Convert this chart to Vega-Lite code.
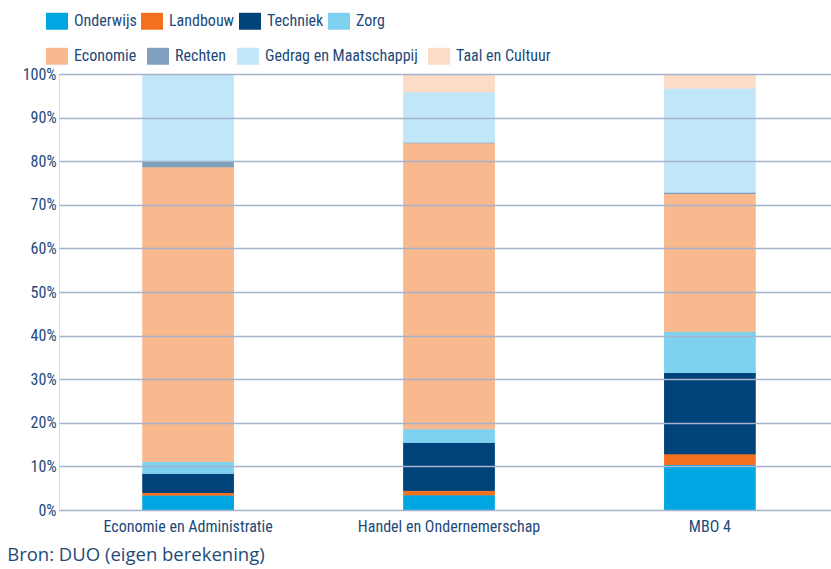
{
  "$schema": "https://vega.github.io/schema/vega-lite/v6.json",
  "width": 780,
  "height": 436,
  "padding": {"left": 7, "top": 10, "right": 0, "bottom": 5},
  "background": "white",
  "title": {
    "text": "Bron: DUO (eigen berekening)",
    "orient": "bottom",
    "anchor": "start",
    "frame": "bounds",
    "font": "Open Sans",
    "fontSize": 18.5,
    "fontWeight": "normal",
    "color": "#1f4a78",
    "offset": 12,
    "dx": -15
  },
  "data": {
    "values": [
      {"opleiding": "Economie en Administratie", "sector": "Onderwijs", "k": 1, "pct": 3.3},
      {"opleiding": "Economie en Administratie", "sector": "Landbouw", "k": 2, "pct": 0.6},
      {"opleiding": "Economie en Administratie", "sector": "Techniek", "k": 3, "pct": 4.4},
      {"opleiding": "Economie en Administratie", "sector": "Zorg", "k": 4, "pct": 2.7},
      {"opleiding": "Economie en Administratie", "sector": "Economie", "k": 5, "pct": 67.6},
      {"opleiding": "Economie en Administratie", "sector": "Rechten", "k": 6, "pct": 1.3},
      {"opleiding": "Economie en Administratie", "sector": "Gedrag en Maatschappij", "k": 7, "pct": 20.1},
      {"opleiding": "Economie en Administratie", "sector": "Taal en Cultuur", "k": 8, "pct": 0.0},
      {"opleiding": "Handel en Ondernemerschap", "sector": "Onderwijs", "k": 1, "pct": 3.4},
      {"opleiding": "Handel en Ondernemerschap", "sector": "Landbouw", "k": 2, "pct": 1.0},
      {"opleiding": "Handel en Ondernemerschap", "sector": "Techniek", "k": 3, "pct": 11.0},
      {"opleiding": "Handel en Ondernemerschap", "sector": "Zorg", "k": 4, "pct": 3.1},
      {"opleiding": "Handel en Ondernemerschap", "sector": "Economie", "k": 5, "pct": 65.6},
      {"opleiding": "Handel en Ondernemerschap", "sector": "Rechten", "k": 6, "pct": 0.2},
      {"opleiding": "Handel en Ondernemerschap", "sector": "Gedrag en Maatschappij", "k": 7, "pct": 11.5},
      {"opleiding": "Handel en Ondernemerschap", "sector": "Taal en Cultuur", "k": 8, "pct": 4.2},
      {"opleiding": "MBO 4", "sector": "Onderwijs", "k": 1, "pct": 10.3},
      {"opleiding": "MBO 4", "sector": "Landbouw", "k": 2, "pct": 2.5},
      {"opleiding": "MBO 4", "sector": "Techniek", "k": 3, "pct": 18.6},
      {"opleiding": "MBO 4", "sector": "Zorg", "k": 4, "pct": 9.5},
      {"opleiding": "MBO 4", "sector": "Economie", "k": 5, "pct": 31.6},
      {"opleiding": "MBO 4", "sector": "Rechten", "k": 6, "pct": 0.3},
      {"opleiding": "MBO 4", "sector": "Gedrag en Maatschappij", "k": 7, "pct": 23.9},
      {"opleiding": "MBO 4", "sector": "Taal en Cultuur", "k": 8, "pct": 3.3}
    ]
  },
  "encoding": {
    "x": {
      "field": "opleiding",
      "type": "nominal",
      "sort": null,
      "scale": {"paddingInner": 0.65, "paddingOuter": 0.32},
      "axis": {
        "title": null,
        "labelAngle": 0,
        "ticks": false,
        "domain": false,
        "labelLimit": 0,
        "labelFont": "Roboto Condensed, Liberation Sans Narrow, Roboto",
        "labelFontSize": 16,
        "labelColor": "#1d4a7a",
        "labelPadding": 8
      }
    },
    "y": {
      "field": "pct",
      "type": "quantitative",
      "stack": "zero",
      "scale": {"domain": [0, 100], "nice": false},
      "axis": {
        "title": null,
        "values": [0, 10, 20, 30, 40, 50, 60, 70, 80, 90, 100],
        "labelExpr": "datum.value + '%'",
        "ticks": false,
        "domain": false,
        "grid": true,
        "gridColor": "#a5b4cc",
        "gridWidth": 1.5,
        "zindex": 1,
        "labelFont": "Roboto Condensed, Liberation Sans Narrow, Roboto",
        "labelFontSize": 16,
        "labelColor": "#1d4a7a",
        "labelPadding": 3
      }
    },
    "order": {"field": "k", "type": "quantitative"}
  },
  "layer": [
    {
      "mark": {"type": "bar"},
      "encoding": {
        "color": {
          "field": "sector",
          "type": "nominal",
          "scale": {
            "domain": ["Onderwijs", "Landbouw", "Techniek", "Zorg", "Economie", "Rechten", "Gedrag en Maatschappij", "Taal en Cultuur"],
            "range": ["#00a6e2", "#f37021", "#00427a", "#7fd1f0", "#f8b98f", "#7fa0bd", "#c0e6f7", "#fcdbc7"]
          },
          "legend": {
            "title": null,
            "orient": "none",
            "legendX": -13,
            "legendY": -64,
            "direction": "horizontal",
            "values": ["Onderwijs", "Landbouw", "Techniek", "Zorg"],
            "columnPadding": 4,
            "labelLimit": 0,
            "symbolType": "M-1,-0.77H1V0.77H-1Z",
            "symbolSize": 484,
            "symbolStrokeWidth": 0,
            "symbolOpacity": 1,
            "labelFont": "Roboto Condensed, Liberation Sans Narrow, Roboto",
            "labelFontSize": 16,
            "labelColor": "#1d4a7a",
            "labelOffset": 6
          }
        }
      }
    },
    {
      "mark": {"type": "bar"},
      "encoding": {
        "fill": {
          "field": "sector",
          "type": "nominal",
          "scale": {
            "domain": ["Economie", "Rechten", "Gedrag en Maatschappij", "Taal en Cultuur", "Onderwijs", "Landbouw", "Techniek", "Zorg"],
            "range": ["#f8b98f", "#7fa0bd", "#c0e6f7", "#fcdbc7", "#00a6e2", "#f37021", "#00427a", "#7fd1f0"]
          },
          "legend": {
            "title": null,
            "orient": "none",
            "legendX": -13,
            "legendY": -29,
            "direction": "horizontal",
            "values": ["Economie", "Rechten", "Gedrag en Maatschappij", "Taal en Cultuur"],
            "columnPadding": 10,
            "labelLimit": 0,
            "symbolType": "M-1,-0.77H1V0.77H-1Z",
            "symbolSize": 484,
            "symbolStrokeWidth": 0,
            "symbolOpacity": 1,
            "labelFont": "Roboto Condensed, Liberation Sans Narrow, Roboto",
            "labelFontSize": 16,
            "labelColor": "#1d4a7a",
            "labelOffset": 6
          }
        }
      }
    }
  ]
}
